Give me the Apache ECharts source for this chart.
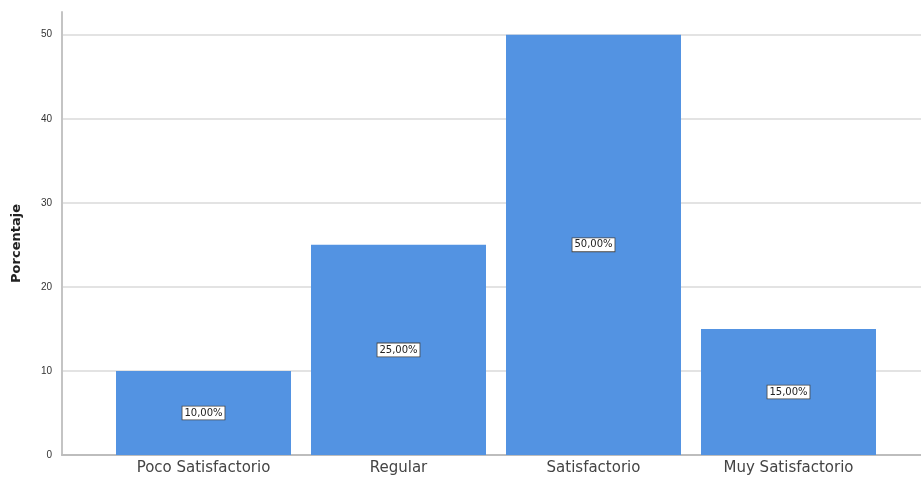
<!DOCTYPE html>
<html><head><meta charset="utf-8">
<script src="https://cdn.jsdelivr.net/npm/echarts@6/dist/echarts.min.js"></script>
<style>html,body{margin:0;padding:0;background:#fff}#c{width:921px;height:483px}</style>
</head><body><div id="c"></div>
<script>
const categories = ['Poco Satisfactorio', 'Regular', 'Satisfactorio', 'Muy Satisfactorio'];
const values = [10, 25, 50, 15];
const pctLabels = ['10,00%', '25,00%', '50,00%', '15,00%'];
const yTitle = 'Porcentaje';

const chart = echarts.init(document.getElementById('c'));
const yMax = 52.7;
chart.setOption({
  animation: false,
  grid: [
    {left: 62, right: 0, top: 12, bottom: 28},
    {left: 106, right: 35, top: 12, bottom: 28}
  ],
  xAxis: [
    {gridIndex: 0, type: 'category', data: [''], axisLine: {lineStyle: {color: '#bdbdbd', width: 2}}, axisTick: {show: false}, axisLabel: {show: false}},
    {gridIndex: 1, type: 'category', data: categories, axisLine: {show: false}, axisTick: {show: false},
     axisLabel: {color: '#444', fontSize: 15, fontFamily: 'DejaVu Sans', margin: 6}}
  ],
  yAxis: [
    {gridIndex: 0, type: 'value', min: 0, max: yMax, interval: 10,
     axisLine: {show: true, lineStyle: {color: '#c4c4c4', width: 2}},
     axisTick: {show: false},
     axisLabel: {showMaxLabel: false, color: '#333', fontSize: 10, fontFamily: 'Liberation Sans, Arial', margin: 10},
     splitLine: {show: true, showMinLine: false, showMaxLine: false, lineStyle: {color: '#dadada', width: 1.5}}},
    {gridIndex: 1, type: 'value', min: 0, max: yMax, interval: 10, show: false, splitLine: {show: false}}
  ],
  graphic: [{
    type: 'text', left: 10, top: 204, rotation: Math.PI / 2,
    style: {text: yTitle, fill: '#222', font: 'bold 13px DejaVu Sans'}
  }],
  series: [{
    type: 'bar', xAxisIndex: 1, yAxisIndex: 1, data: values, barWidth: 175,
    itemStyle: {color: '#5393e2'},
    label: {show: true, position: 'inside', formatter: p => pctLabels[p.dataIndex],
      color: '#222', fontSize: 10, fontFamily: 'DejaVu Sans',
      backgroundColor: '#fff', borderColor: '#444', borderWidth: 0.8, padding: [2, 2, 1, 2]}
  }]
});
</script></body></html>
